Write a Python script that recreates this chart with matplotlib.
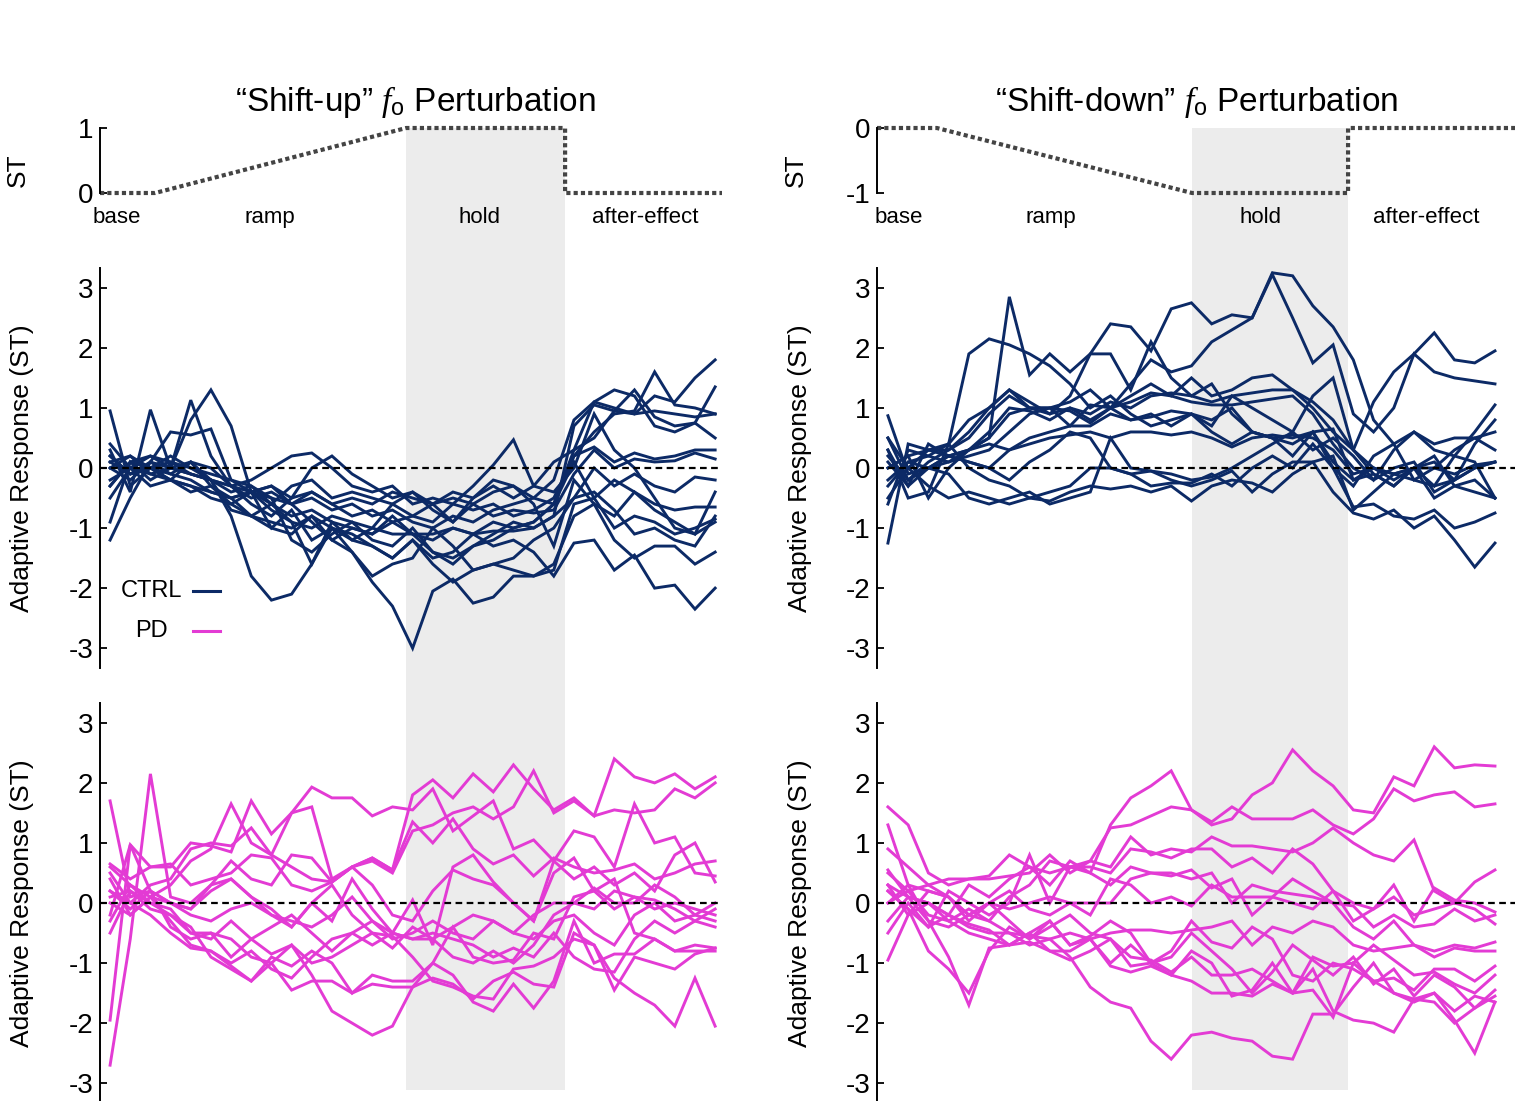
import numpy as np
import matplotlib
matplotlib.use('Agg')
import matplotlib.pyplot as plt
import matplotlib.transforms as mtransforms
from matplotlib.patches import Rectangle

plt.rcParams['font.family'] = ['Liberation Sans', 'DejaVu Sans']
plt.rcParams['mathtext.fontset'] = 'custom'
plt.rcParams['mathtext.rm'] = 'Liberation Sans'
plt.rcParams['mathtext.it'] = 'Liberation Serif:italic'
plt.rcParams['axes.unicode_minus'] = False

#%% data: adaptive response per subject, one value per block (base | ramp | hold | after-effect)
up_ctrl = [
    [0.2,-0.1,0.1, 0.0,-0.1,-0.2,-0.3,-0.5,-0.4,-0.6,-0.5,-0.7,-0.6,-0.8,-0.7, -0.9,-1.0,-0.8,-0.9,-0.7,-0.6,-0.5,-0.2, 0.8,1.1,1.0,0.9,1.2,1.1,1.5,1.8],
    [-0.3,0.1,0.0, 0.1,0.0,-0.1,-0.2,-0.3,-0.5,-0.6,-0.4,-0.6,-0.5,-0.6,-0.4, -0.5,-0.6,-0.4,-0.5,-0.3,-0.5,-0.3,0.1, 0.3,1.1,1.3,1.2,0.7,0.6,0.75,1.35],
    [0.4,0.0,0.2, 0.1,-0.1,-0.2,-0.4,-0.3,-0.6,-0.8,-0.7,-0.9,-1.0,-1.1,-0.9, -1.1,-1.2,-1.0,-1.1,-0.9,-1.0,-0.9,-0.6, 0.2,0.6,0.9,0.95,1.6,1.05,1.0,0.9],
    [0.0,-0.2,0.1, 0.6,0.55,0.65,-0.2,-0.4,-0.3,-0.6,-0.9,-1.2,-1.0,-1.1,-0.8, -1.1,-1.4,-1.6,-1.3,-1.1,-0.9,-1.0,-0.8, 0.7,1.05,0.95,1.3,0.85,0.7,0.75,0.5],
    [-0.3,0.1,0.2, 0.0,0.1,-0.2,-0.3,-0.2,0.0,0.2,0.25,0.0,-0.3,-0.4,-0.3, -0.6,-0.5,-0.6,-0.7,-0.6,-0.8,-0.7,-0.5, 0.2,0.35,0.1,0.25,0.15,0.2,0.3,0.3],
    [0.1,-0.1,0.0, -0.1,0.1,0.0,-0.3,-0.6,-0.8,-0.5,0.0,0.2,-0.1,-0.3,-0.5, -0.4,-0.7,-0.9,-0.6,-0.8,-0.7,-0.75,-0.7, -0.1,0.3,0.0,0.15,0.1,0.12,0.25,0.15],
    [0.0,0.2,0.0, -0.2,-0.3,-0.4,-0.5,-0.4,-0.7,-0.9,-1.0,-0.8,-0.9,-1.0,-1.1, -1.1,-1.1,-1.0,-1.1,-1.05,-1.05,-1.0,-0.8, -0.5,0.0,-0.3,-0.1,-0.3,-0.4,-0.15,-0.2],
    [-0.9,0.1,-0.2, 0.0,-0.1,-0.2,-0.7,-0.8,-0.6,-0.9,-1.6,-0.9,-1.2,-1.0,-0.6, -0.4,-0.6,-0.9,-0.5,-0.2,-0.3,-0.6,-1.3, -0.2,-0.6,-0.8,-0.4,-0.7,-0.9,-1.1,-0.4],
    [0.2,-0.1,0.0, -0.2,0.1,-0.3,-0.5,-0.4,-0.5,-1.2,-1.4,-1.1,-0.9,-1.2,-1.3, -1.0,-1.4,-1.5,-1.3,-1.2,-1.0,-0.9,-0.6, 0.1,-0.5,-0.2,-0.4,-0.6,-0.7,-0.65,-0.65],
    [-0.2,0.0,-0.3, -0.2,-0.4,-0.3,-0.6,-0.8,-1.0,-1.1,-0.8,-1.0,-1.2,-1.3,-1.5, -1.2,-1.6,-1.9,-1.7,-1.6,-1.5,-1.2,-1.0, -0.5,-0.4,-0.7,-1.1,-1.0,-1.2,-1.3,-0.8],
    [-0.5,0.0,-0.1, -0.2,-0.3,-0.5,-0.6,-0.4,-1.0,-0.7,-1.2,-1.0,-1.4,-1.8,-1.6, -1.5,-1.0,-1.3,-1.7,-1.6,-1.7,-1.8,-1.7, -0.6,-0.5,-1.0,-0.8,-0.9,-1.1,-1.0,-0.85],
    [-1.2,-0.5,0.1, -0.1,-0.2,-0.4,-0.5,-0.8,-0.9,-1.0,-0.8,-1.2,-1.4,-1.9,-2.3, -3.0,-2.05,-1.85,-2.25,-2.15,-1.8,-1.8,-1.6, -0.8,-0.6,-1.2,-1.5,-1.3,-1.3,-1.6,-1.4],
    [0.95,-0.3,0.0, 0.2,0.0,-0.2,-0.8,-1.8,-2.2,-2.1,-1.6,-1.0,-1.1,-1.3,-1.5, -1.2,-1.5,-1.4,-1.1,-1.3,-1.2,-1.4,-1.8, -1.25,-1.2,-1.7,-1.45,-2.0,-1.95,-2.35,-2.0],
    [0.1,0.2,-0.1, 0.0,0.8,1.3,0.7,-0.4,-0.6,-0.3,-0.2,-0.5,-0.4,-0.5,-0.6, -0.8,-0.9,-0.6,-0.3,0.05,0.47,-0.3,-0.4, 0.0,0.9,0.3,0.0,-0.5,-1.0,-1.1,-0.9],
    [0.3,-0.4,0.97, 0.0,1.13,0.2,-0.3,-0.4,-0.3,-0.5,-0.4,-0.6,-0.8,-0.7,-0.9, -0.8,-0.6,-0.5,-0.6,-0.4,-0.3,-0.5,-0.6, 0.3,0.5,0.95,0.9,0.95,0.9,0.85,0.9],
]

up_pd = [
    [0.2,0.0,0.3, 0.4,0.9,1.0,0.95,1.25,0.8,0.6,0.4,0.35,0.6,0.7,0.5, 1.2,1.3,1.5,1.6,1.4,1.6,2.2,1.5, 1.7,1.45,2.4,2.1,2.0,2.15,1.9,2.1],
    [0.4,-0.2,0.1, 0.3,0.7,0.9,1.65,1.0,0.8,1.5,1.6,0.4,0.6,0.75,0.55, 1.8,2.05,1.75,2.15,1.85,2.3,1.9,1.55, 1.75,1.45,1.55,1.5,1.55,1.9,1.75,2.0],
    [0.65,0.4,0.6, 0.6,1.0,0.95,0.85,1.7,1.15,1.5,1.93,1.75,1.75,1.45,1.6, 1.55,1.9,1.2,1.45,1.7,0.9,1.05,0.7, 1.2,1.1,0.6,1.65,1.0,1.1,0.5,0.45],
    [1.7,0.1,0.2, 0.0,-0.1,0.3,0.7,0.4,0.3,0.8,0.75,0.35,0.6,0.75,0.55, 1.35,1.0,1.4,0.9,0.65,0.8,0.45,0.75, 0.6,0.5,0.55,0.65,0.4,0.5,0.65,0.7],
    [-0.2,0.97,0.6, 0.65,0.3,0.4,0.5,0.8,0.75,0.3,0.2,0.35,0.6,0.3,-0.2, -0.3,0.2,0.55,0.4,0.3,0.0,-0.3,0.7, 0.4,0.6,0.3,0.5,0.2,0.8,1.0,0.35],
    [-2.7,-0.6,2.15, 0.1,0.0,0.3,0.4,0.1,-0.1,-0.4,0.0,-0.3,0.4,-0.1,-0.5, 0.05,-0.7,0.6,0.8,0.35,0.0,-0.3,0.5, 0.75,0.2,-0.1,0.1,0.05,-0.1,-0.3,-0.1],
    [-1.95,0.97,0.2, 0.0,-0.2,-0.3,-0.1,0.0,-0.2,-0.3,-0.4,-0.2,0.1,-0.3,-0.5, -0.6,-0.6,-0.4,-0.2,-0.3,-0.5,-0.2,0.0, 0.0,-0.1,0.2,0.1,-0.1,0.0,-0.1,-0.2],
    [0.1,0.2,0.0, -0.2,-0.5,-0.6,-0.3,-0.6,-0.4,-0.2,-0.5,-0.8,-0.5,-0.3,-0.6, -0.5,-0.3,-0.5,-0.6,-0.3,-0.5,-0.6,-0.3, -0.2,-0.5,-0.7,-0.2,0.0,-0.3,-0.2,-0.3],
    [0.0,-0.2,0.1, -0.3,-0.7,-0.8,-1.0,-0.8,-1.1,-1.25,-0.9,-0.6,-0.5,-0.7,-0.5, -0.6,-0.5,-0.6,-0.7,-0.9,-0.75,-0.9,-0.5, -0.9,-1.1,-1.15,-0.6,-0.3,-0.5,-0.3,-0.4],
    [-0.5,0.2,-0.1, -0.2,-0.4,-0.9,-1.1,-1.3,-1.0,-1.45,-1.3,-1.3,-1.5,-1.35,-1.4, -1.4,-1.25,-1.35,-1.6,-1.3,-1.15,-1.35,-1.4, -0.5,-0.7,-1.45,-0.9,-1.0,-1.1,-0.85,-0.75],
    [0.5,0.0,-0.2, -0.5,-0.75,-0.8,-1.05,-1.3,-0.9,-1.05,-0.8,-1.0,-1.5,-1.2,-1.3, -1.3,-1.0,-1.2,-1.65,-1.8,-1.35,-1.75,-1.3, -0.3,-1.0,-0.85,-0.85,-0.6,-0.8,-0.8,-0.8],
    [0.2,-0.1,0.2, -0.4,-0.6,-0.5,-0.6,-0.9,-1.0,-0.7,-1.2,-1.8,-2.0,-2.2,-2.05, -1.4,-1.0,-0.4,-0.9,-1.0,-0.95,-0.5,-0.6, 0.1,0.2,0.4,-0.5,-0.6,-0.8,-0.7,-0.75],
    [-0.3,0.3,0.0, -0.1,-0.5,-0.5,-0.9,-0.6,-0.85,-0.7,-1.0,-0.9,-0.7,-0.5,-0.55, -0.9,-1.3,-1.4,-1.55,-1.6,-1.1,-1.05,-0.9, -0.6,-0.7,-1.25,-1.5,-1.7,-2.05,-1.25,-2.05],
    [0.6,0.3,0.1, 0.0,-0.1,0.2,0.4,0.1,-0.2,-0.4,0.0,0.3,-0.2,-0.5,-0.75, -0.4,-0.6,-0.9,-1.0,-0.8,-1.0,-0.7,-0.2, 0.0,0.25,0.0,0.0,0.3,0.1,-0.2,0.0],
]

down_ctrl = [
    [0.3,-0.3,0.0, 0.2,0.3,0.5,2.85,1.55,1.9,1.6,1.9,1.9,1.3,2.1,1.5, 1.2,1.4,0.9,0.6,0.5,0.4,0.6,0.0, -0.3,0.2,0.4,-0.2,0.0,0.3,0.5,0.6],
    [-0.5,0.0,0.3, 0.4,1.9,2.15,2.05,1.9,1.7,1.4,1.0,1.2,0.9,0.7,0.8, 0.9,0.6,0.4,0.6,0.5,0.2,0.6,0.1, -0.2,-0.1,-0.3,0.0,0.1,-0.2,0.0,0.1],
    [0.2,-0.2,0.1, 0.3,0.5,0.9,1.2,1.0,1.0,1.1,1.3,1.0,1.4,1.8,1.6, 1.7,2.1,2.3,2.5,3.25,3.2,2.7,2.35, 1.8,0.8,0.4,0.6,0.3,0.2,0.1,-0.5],
    [-0.3,0.1,0.2, 0.4,0.8,1.0,1.3,1.0,0.9,1.2,1.9,2.4,2.35,1.95,2.65, 2.75,2.4,2.55,2.5,3.22,2.5,1.75,2.05, 0.9,0.6,1.0,1.9,1.6,1.5,1.45,1.4],
    [0.0,0.2,0.3, 0.3,0.6,1.0,1.3,1.1,0.9,1.0,0.8,1.0,1.2,1.4,1.2, 1.5,1.2,1.3,1.5,1.55,1.3,1.0,0.6, 0.3,1.1,1.6,1.9,2.25,1.8,1.75,1.95],
    [0.5,-0.2,0.0, 0.2,0.3,0.6,1.0,0.95,0.8,1.0,0.9,1.1,1.0,1.2,1.25, 1.2,1.1,1.2,1.25,1.3,1.3,1.1,0.8, 0.3,-0.1,-0.3,0.0,-0.3,0.2,0.6,1.05],
    [-0.6,0.3,0.2, 0.1,0.3,0.5,0.9,1.0,1.0,0.7,1.05,1.0,1.1,1.25,1.2, 1.1,1.05,1.05,1.1,1.15,1.2,0.9,0.4, 0.0,-0.2,0.0,0.1,-0.4,-0.2,0.4,0.8],
    [0.87,-0.1,0.0, 0.1,0.2,0.3,0.6,0.9,1.0,0.95,0.75,1.0,0.8,0.9,0.7, 0.9,0.7,1.2,1.0,0.8,0.6,0.3,0.5, 0.2,-0.2,0.3,0.6,0.4,0.5,0.5,0.3],
    [0.0,0.2,-0.5, 0.0,0.3,0.4,0.3,0.5,0.6,0.7,0.7,0.9,0.8,0.85,0.95, 0.9,0.8,1.0,0.6,0.5,0.55,0.5,0.3, -0.1,0.0,-0.1,0.0,0.0,-0.1,0.05,0.1],
    [-1.25,0.4,0.3, 0.2,0.1,0.0,0.3,0.4,0.5,0.55,0.6,0.5,0.6,0.6,0.55, 0.6,0.5,0.35,0.5,0.55,0.5,0.6,0.65, -0.2,0.0,-0.1,-0.2,-0.3,-0.2,0.0,0.1],
    [0.3,-0.5,-0.4, 0.4,0.0,-0.2,-0.3,-0.5,-0.55,-0.4,-0.3,-0.35,-0.3,-0.4,-0.3, -0.55,-0.3,-0.2,-0.25,-0.4,-0.1,0.1,0.2, -0.7,-0.4,-0.1,0.0,-0.5,-0.3,-0.2,-0.5],
    [-0.2,0.1,0.0, -0.1,-0.5,-0.6,-0.5,-0.4,-0.6,-0.5,-0.4,0.5,0.0,-0.05,-0.1, -0.2,-0.15,0.0,0.2,0.4,0.6,1.2,1.5, 0.3,0.0,-0.2,0.0,0.2,-0.3,-0.4,-0.5],
    [0.5,0.0,-0.3, -0.5,-0.4,-0.5,-0.6,-0.5,-0.4,-0.3,0.0,0.0,-0.1,-0.3,-0.25, -0.25,-0.1,-0.3,0.0,0.2,0.0,0.4,0.0, -0.65,-0.6,-0.8,-0.85,-0.7,-1.0,-0.9,-0.75],
    [0.1,-0.3,0.4, 0.2,0.1,0.0,-0.2,0.1,0.3,0.6,0.5,0.0,-0.1,-0.05,-0.2, -0.3,-0.2,-0.05,-0.4,-0.1,0.1,0.1,-0.4, -0.75,-0.85,-0.7,-1.0,-0.8,-1.2,-1.65,-1.25],
]

down_pd = [
    [0.3,0.1,0.0, -0.2,0.3,0.1,0.4,0.6,0.3,0.7,0.5,1.3,1.75,1.95,2.2, 1.55,1.3,1.4,1.8,2.0,2.55,2.2,1.95, 1.55,1.5,2.1,1.95,2.6,2.25,2.3,2.28],
    [0.9,0.6,0.3, 0.4,0.4,0.45,0.8,0.6,0.5,0.6,0.7,1.25,1.3,1.45,1.6, 1.55,1.35,1.6,1.4,1.4,1.4,1.55,1.3, 1.15,1.4,1.9,1.7,1.8,1.85,1.6,1.65],
    [1.6,1.3,0.5, 0.3,0.4,0.4,0.45,0.5,0.8,0.5,0.7,0.6,1.1,0.8,0.9, 0.85,1.1,0.95,0.95,0.9,0.85,1.0,1.25, 1.0,0.8,0.7,1.05,0.2,0.0,0.35,0.55],
    [0.5,0.2,0.3, 0.1,-0.2,-0.3,0.1,0.3,0.7,0.6,0.6,0.5,0.9,0.85,0.75, 0.9,0.9,0.6,0.75,0.5,0.9,0.65,0.2, -0.3,-0.1,0.3,-0.3,0.25,0.05,0.0,-0.15],
    [0.2,-0.1,-0.4, 0.2,0.0,-0.2,0.0,0.8,0.0,0.6,0.5,0.3,0.6,0.5,0.5, 0.4,0.5,0.0,0.3,0.2,0.15,0.1,0.0, -0.05,-0.4,-0.2,-0.4,-0.35,-0.1,-0.3,-0.2],
    [-0.95,-0.2,0.2, 0.1,-0.3,0.0,-0.1,0.0,0.1,0.0,-0.2,0.4,0.3,0.0,0.1, -0.05,0.3,0.1,0.1,0.1,0.0,-0.1,0.2, 0.0,-0.1,0.1,-0.2,-0.1,0.0,-0.1,-0.35],
    [0.55,0.1,-0.3, -0.4,-0.2,0.0,0.2,-0.1,-0.2,0.0,0.0,0.0,0.4,0.5,0.45, 0.55,0.25,0.4,-0.2,0.1,0.4,0.2,0.0, -0.4,-0.6,-0.3,-0.7,-0.8,-0.7,-0.75,-0.65],
    [0.3,-0.2,0.0, -0.3,-0.1,-0.3,-0.5,-0.55,-0.6,-0.5,-0.6,-0.5,-0.45,-0.45,-0.5, -0.45,-0.4,-0.3,-0.7,-0.4,-0.5,-0.3,-0.4, -0.7,-0.8,-0.75,-0.7,-0.9,-0.75,-0.8,-0.8],
    [0.0,0.2,-0.2, -0.3,-0.5,-0.6,-0.7,-0.5,-0.3,-0.7,-0.55,-0.3,-0.5,-1.0,-0.8, -0.3,-0.65,-0.75,-0.4,-0.6,-1.2,-1.3,-1.0, -1.1,-1.3,-1.25,-1.45,-1.1,-1.1,-1.3,-1.05],
    [-0.5,0.0,-0.4, -0.2,-0.35,-0.45,-0.7,-0.5,-0.8,-0.95,-0.8,-0.6,-1.05,-1.0,-0.9, -0.5,-0.8,-1.1,-1.5,-1.15,-0.7,-0.95,-1.2, -0.9,-1.35,-1.1,-1.55,-1.2,-1.4,-1.75,-1.55],
    [0.2,-0.1,-0.8, -1.1,-1.5,-0.8,-0.4,-0.6,-0.3,-0.7,-0.6,-1.0,-0.7,-1.0,-1.2, -0.8,-1.0,-1.55,-1.45,-1.0,-1.5,-1.45,-1.9, -1.0,-1.3,-1.5,-1.65,-1.5,-1.8,-1.55,-1.65],
    [0.0,0.3,-0.3, -0.9,-1.7,-0.75,-0.7,-0.65,-0.8,-0.8,-0.6,-1.05,-1.15,-1.05,-1.2, -1.3,-1.5,-1.5,-1.55,-1.35,-1.5,-1.1,-1.8, -1.95,-2.0,-2.15,-1.6,-1.65,-2.0,-1.75,-1.45],
    [-0.3,0.1,0.0, -0.2,-0.4,-0.5,-0.5,-0.7,-0.6,-0.9,-1.4,-1.65,-1.75,-2.3,-2.6, -2.2,-2.15,-2.25,-2.3,-2.55,-2.6,-1.85,-1.85, -1.4,-1.0,-1.5,-1.6,-1.5,-1.95,-2.5,-1.65],
    [1.3,0.3,0.2, 0.1,-0.2,0.0,-0.3,-0.6,-0.4,-0.2,-0.5,-0.6,-0.9,-0.95,-1.15, -0.9,-1.2,-1.2,-1.1,-1.3,-1.5,-0.9,-1.05, -1.0,-0.7,-0.95,-1.2,-1.15,-1.35,-1.5,-1.2],
]

# phase edges in block units: axis start, ramp start, hold start, after-effect start, end
up_edges = [0.50, 3.23, 15.68, 23.56, 31.34]
down_edges = [0.46, 3.42, 16.03, 23.74, 31.99]
phase_names = ['base', 'ramp', 'hold', 'after-effect']
up_label_x = [1.35, 8.93, 19.34, 27.52]
down_label_x = [1.54, 9.06, 19.39, 27.6]

CTRL_COLOR = '#0c2a66'
PD_COLOR = '#e33bd4'
SHADE = '#ececec'

W, H = 1523, 1101
fig = plt.figure(figsize=(W / 100, H / 100), dpi=100)


def box(x0, x1, y0, y1):
    return [x0 / W, 1 - y1 / H, (x1 - x0) / W, (y1 - y0) / H]


def style_axis(ax, size=20):
    for s in ['top', 'right', 'bottom']:
        ax.spines[s].set_visible(False)
    ax.spines['left'].set_linewidth(1.4)
    ax.set_xticks([])
    ax.tick_params(axis='y', direction='in', length=5, width=1.3, pad=5, labelsize=size)
    ax.set_facecolor('none')


cols = [
    dict(x0=100, x1=722, edges=up_edges, sign=1, ctrl=up_ctrl, pd=up_pd, lab_x=up_label_x,
         title='\u201cShift-up\u201d $\\mathit{f}_{\\mathrm{o}}$ Perturbation', title_x=415, ylab_x=22),
    dict(x0=877, x1=1515, edges=down_edges, sign=-1, ctrl=down_ctrl, pd=down_pd, lab_x=down_label_x,
         title='\u201cShift-down\u201d $\\mathit{f}_{\\mathrm{o}}$ Perturbation', title_x=1197, ylab_x=800),
]

for c in cols:
    e = c['edges']
    # perturbation schedule
    ax0 = fig.add_axes(box(c['x0'], c['x1'], 128, 193))
    style_axis(ax0)
    px = [e[0], e[1], e[2], e[3], e[3], e[4]]
    py = np.array([0, 0, 1, 1, 0, 0]) * c['sign']
    ax0.plot(px, py, color='#444444', lw=3.0, ls=(0, (1, 0.75)), dash_capstyle='butt', clip_on=False)
    ax0.set_xlim(e[0], e[4])
    if c['sign'] > 0:
        ax0.set_ylim(0, 1)
        ax0.set_yticks([0, 1])
    else:
        ax0.set_ylim(-1, 0)
        ax0.set_yticks([-1, 0])
    for name, lx in zip(phase_names, c['lab_x']):
        ax0.text(lx, -0.38 if c['sign'] > 0 else -1.38, name, ha='center', va='center', fontsize=16)
    fig.text(c['title_x'] / W, 1 - 102 / H, c['title'], ha='center', va='center', fontsize=24)
    fig.text((c['ylab_x'] - 4) / W, 1 - 170 / H, 'ST', rotation=90, ha='center', va='center', fontsize=19)

    # hold shading spans all three rows
    tr = mtransforms.blended_transform_factory(ax0.transData, fig.transFigure)
    ax0.add_patch(Rectangle((e[2], 1 - 1090 / H), e[3] - e[2], (1090 - 128) / H,
                            transform=tr, facecolor=SHADE, edgecolor='none', zorder=0, clip_on=False))

    for rows, color, top in [(c['ctrl'], CTRL_COLOR, 268), (c['pd'], PD_COLOR, 703)]:
        ax = fig.add_axes(box(c['x0'], c['x1'], top, top + 400))
        style_axis(ax)
        for y in rows:
            x = np.arange(1, len(y) + 1)
            ax.plot(x, y, color=color, lw=2.1, solid_joinstyle='miter')
        ax.plot([e[0], e[4]], [0, 0], color='black', lw=1.6, ls=(0, (3, 2)), zorder=5)
        ax.set_xlim(e[0], e[4])
        ax.set_ylim(-3.33, 3.33)
        ax.set_yticks([-3, -2, -1, 0, 1, 2, 3])
        fig.text(c['ylab_x'] / W, 1 - (top + 200) / H, 'Adaptive Response (ST)',
                 rotation=90, ha='center', va='center', fontsize=19)

# legend, drawn by hand in the first CTRL panel
for lab, col, yy in [('CTRL', CTRL_COLOR, 591), ('PD', PD_COLOR, 631)]:
    fig.text(151 / W, 1 - yy / H, lab, ha='center', va='center', fontsize=17)
    fig.lines.append(plt.Line2D([193 / W, 220 / W], [1 - yy / H, 1 - yy / H],
                                transform=fig.transFigure, color=col, lw=2.2))

fig.savefig('out.png', dpi=100)
